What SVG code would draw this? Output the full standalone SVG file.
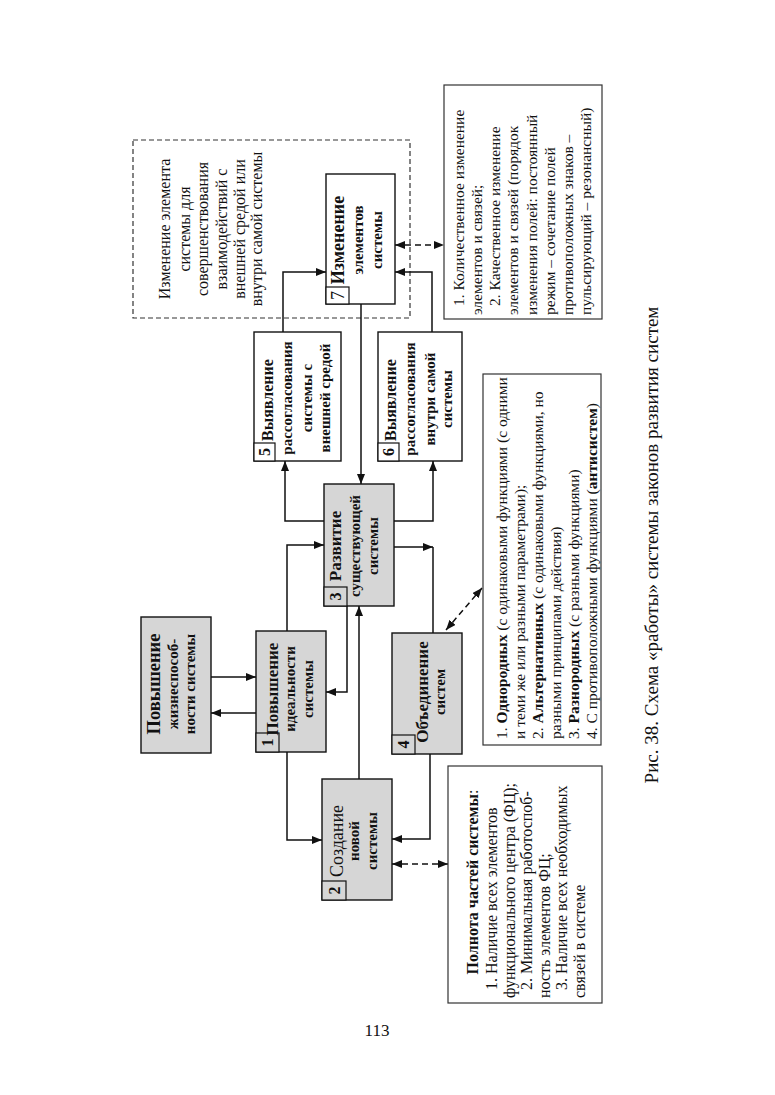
<svg xmlns="http://www.w3.org/2000/svg" width="775" height="1095" viewBox="0 0 775 1095">
<defs>
<marker id="ah" viewBox="0 0 10 8" refX="10" refY="4" markerWidth="10" markerHeight="8" markerUnits="userSpaceOnUse" orient="auto-start-reverse">
<path d="M0,0 L10,4 L0,8 z" fill="#111"/>
</marker>
</defs>
<style>
.node{fill:#d6d6d6;stroke:#111;stroke-width:1.4}
.wnode{fill:#fff;stroke:#111;stroke-width:1.4}
.num{fill:#d6d6d6;stroke:#111;stroke-width:1.2}
.wnum{fill:#fff;stroke:#111;stroke-width:1.2}
text{font-family:"Liberation Serif","Times New Roman",serif;fill:#111}
.b{font-weight:bold;font-size:15px}
.big{font-weight:bold;font-size:17px}
.n{font-weight:bold;font-size:16px;text-anchor:middle}
.m{text-anchor:middle}
.r15{font-size:15.5px}
.r16{font-size:16px}
.tb{fill:#fff;stroke:#333;stroke-width:1.2}
.c{fill:none;stroke:#111;stroke-width:1.5}
.d{fill:none;stroke:#111;stroke-width:1.5;stroke-dasharray:6,4}
.dbox{fill:none;stroke:#333;stroke-width:1.2;stroke-dasharray:5,3}
</style>
<rect width="775" height="1095" fill="#fff"/>

<g id="dashed-note">
<rect class="dbox" x="133" y="140" width="277" height="178"/>
<g transform="rotate(-90)" class="r16">
<text class="m" x="-229" y="170">Изменение элемента</text>
<text class="m" x="-229" y="190">системы для</text>
<text class="m" x="-229" y="208">совершенствования</text>
<text class="m" x="-229" y="227">взаимодействий с</text>
<text class="m" x="-229" y="245">внешней средой или</text>
<text class="m" x="-229" y="262">внутри самой системы</text>
</g>
</g>

<g id="connectors">
<path class="c" d="M211,677 H256" marker-end="url(#ah)"/>
<path class="c" d="M256,713 H211" marker-end="url(#ah)"/>
<path class="c" d="M287,752 V840 H322" marker-end="url(#ah)"/>
<path class="c" d="M430,754 V839 H392" marker-end="url(#ah)"/>
<path class="d" d="M392,864 H448" marker-start="url(#ah)" marker-end="url(#ah)"/>
<path class="c" d="M359,779 V606" marker-end="url(#ah)"/>
<path class="c" d="M347,606 V692 H326" marker-end="url(#ah)"/>
<path class="c" d="M287,631 V545 H324" marker-end="url(#ah)"/>
<path class="c" d="M324,521 H285 V461" marker-end="url(#ah)"/>
<path class="c" d="M394,521 H433 V461" marker-end="url(#ah)"/>
<path class="c" d="M394,547 H433" marker-end="url(#ah)"/>
<path class="c" d="M433,547 V633"/>
<path class="d" d="M446,630 L482,588" marker-start="url(#ah)" marker-end="url(#ah)"/>
<path class="c" d="M361,304 V484" marker-end="url(#ah)"/>
<path class="c" d="M283,332 V272 H326" marker-end="url(#ah)"/>
<path class="c" d="M432,332 V272 H395" marker-end="url(#ah)"/>
<path class="d" d="M395,245 H444" marker-start="url(#ah)" marker-end="url(#ah)"/>
</g>

<g id="n-viability">
<rect class="node" x="141" y="617" width="70" height="136"/>
<g transform="translate(176,684) rotate(-90)">
<text class="m" x="0" y="-16" font-weight="bold" font-size="18.5">Повышение</text>
<text class="m b" x="0" y="2">жизнеспособ-</text>
<text class="m b" x="0" y="19">ности системы</text>
</g>
</g>

<g id="n1">
<rect class="node" x="256" y="631" width="70" height="121"/>
<rect class="num" x="256" y="733" width="23" height="19"/>
<text class="n" transform="translate(273,742.5) rotate(-90)">1</text>
<g transform="translate(291,689) rotate(-90)">
<text class="m big" x="0" y="-13">Повышение</text>
<text class="m b" x="0" y="4">идеальности</text>
<text class="m b" x="0" y="22">системы</text>
</g>
</g>

<g id="n2">
<rect class="node" x="322" y="779" width="70" height="121"/>
<rect class="num" x="322" y="881" width="24" height="19"/>
<text class="n" transform="translate(339.5,890.5) rotate(-90)">2</text>
<g transform="translate(357,841) rotate(-90)">
<text class="m" x="0" y="-14" font-size="18">Создание</text>
<text class="m b" x="0" y="2">новой</text>
<text class="m b" x="0" y="20">системы</text>
</g>
</g>

<g id="n3">
<rect class="node" x="324" y="484" width="70" height="122"/>
<rect class="num" x="324" y="587" width="23" height="19"/>
<text class="n" transform="translate(341,596.5) rotate(-90)">3</text>
<g transform="translate(359,546) rotate(-90)">
<text class="m big" x="0" y="-18">Развитие</text>
<text class="m b" x="0" y="1">существующей</text>
<text class="m b" x="0" y="19">системы</text>
</g>
</g>

<g id="n4">
<rect class="node" x="392" y="633" width="70" height="121"/>
<rect class="num" x="392" y="735" width="23" height="19"/>
<text class="n" transform="translate(409,744.5) rotate(-90)">4</text>
<g transform="translate(427,692) rotate(-90)">
<text class="m big" x="0" y="1">Объединение</text>
<text class="m b" x="0" y="18">систем</text>
</g>
</g>

<g id="n5">
<rect class="wnode" x="254" y="332" width="87" height="129"/>
<rect class="wnum" x="254" y="443" width="21" height="18"/>
<text class="n" transform="translate(270,452) rotate(-90)">5</text>
<g transform="rotate(-90)">
<text x="-441" y="273" font-weight="bold" font-size="16">Выявление</text>
<text class="m b" x="-398" y="292">рассогласования</text>
<text class="m b" x="-398" y="312">системы с</text>
<text class="m b" x="-398" y="330">внешней средой</text>
</g>
</g>

<g id="n6">
<rect class="wnode" x="378" y="332" width="84" height="129"/>
<rect class="wnum" x="378" y="443" width="21" height="18"/>
<text class="n" transform="translate(394,452) rotate(-90)">6</text>
<g transform="rotate(-90)">
<text x="-441" y="396" font-weight="bold" font-size="16">Выявление</text>
<text class="m b" x="-399" y="415">рассогласования</text>
<text class="m b" x="-399" y="435">внутри самой</text>
<text class="m b" x="-399" y="452">системы</text>
</g>
</g>

<g id="n7">
<rect class="wnode" x="326" y="174" width="69" height="130"/>
<rect class="wnum" x="326" y="287" width="23" height="17"/>
<text class="m" font-size="18" transform="translate(343.5,295.5) rotate(-90)">7</text>
<g transform="rotate(-90)">
<text class="m" x="-240" y="344" font-weight="bold" font-size="18">Изменение</text>
<text class="m b" x="-240" y="363">элементов</text>
<text class="m b" x="-240" y="382">системы</text>
</g>
</g>

<g id="note-changes">
<rect class="tb" x="444" y="85" width="158" height="234"/>
<g transform="rotate(-90)" class="r15">
<text x="-306" y="464">1. Количественное изменение</text>
<text x="-315" y="482">элементов и связей;</text>
<text x="-306" y="500">2. Качественное изменение</text>
<text x="-315" y="518">элементов и связей (порядок</text>
<text x="-315" y="537">изменения полей: постоянный</text>
<text x="-315" y="555">режим – сочетание полей</text>
<text x="-315" y="573">противоположных знаков –</text>
<text x="-315" y="591">пульсирующий – резонансный)</text>
</g>
</g>

<g id="note-union">
<rect class="tb" x="483" y="374" width="118" height="371"/>
<g transform="rotate(-90)" class="r15">
<text x="-739" y="507">1. <tspan font-weight="bold">Однородных</tspan> (с одинаковыми функциями (с одними</text>
<text x="-739" y="525">и теми же или разными параметрами);</text>
<text x="-739" y="543">2. <tspan font-weight="bold">Альтернативных</tspan> (с одинаковыми функциями, но</text>
<text x="-739" y="561">разными принципами действия)</text>
<text x="-739" y="579">3. <tspan font-weight="bold">Разнородных</tspan> (с разными функциями)</text>
<text x="-739" y="597">4. С противоположными функциями (<tspan font-weight="bold">антисистем</tspan>)</text>
</g>
</g>

<g id="note-completeness">
<rect class="tb" x="448" y="766" width="154" height="237"/>
<g transform="rotate(-90)" class="r16">
<text class="m" x="-882" y="478" font-weight="bold">Полнота частей системы<tspan font-weight="normal">:</tspan></text>
<text x="-990" y="497">1. Наличие всех элементов</text>
<text x="-998" y="515">функционального центра (ФЦ);</text>
<text x="-990" y="532">2. Минимальная работоспоб-</text>
<text x="-998" y="550">ность элементов ФЦ;</text>
<text x="-990" y="567">3. Наличие всех необходимых</text>
<text x="-998" y="585">связей в системе</text>
</g>
</g>

<text class="m" font-size="19" transform="translate(658,545) rotate(-90)">Рис. 38. Схема «работы» системы законов развития систем</text>
<text class="m" x="377" y="1036" font-size="17">113</text>
</svg>
